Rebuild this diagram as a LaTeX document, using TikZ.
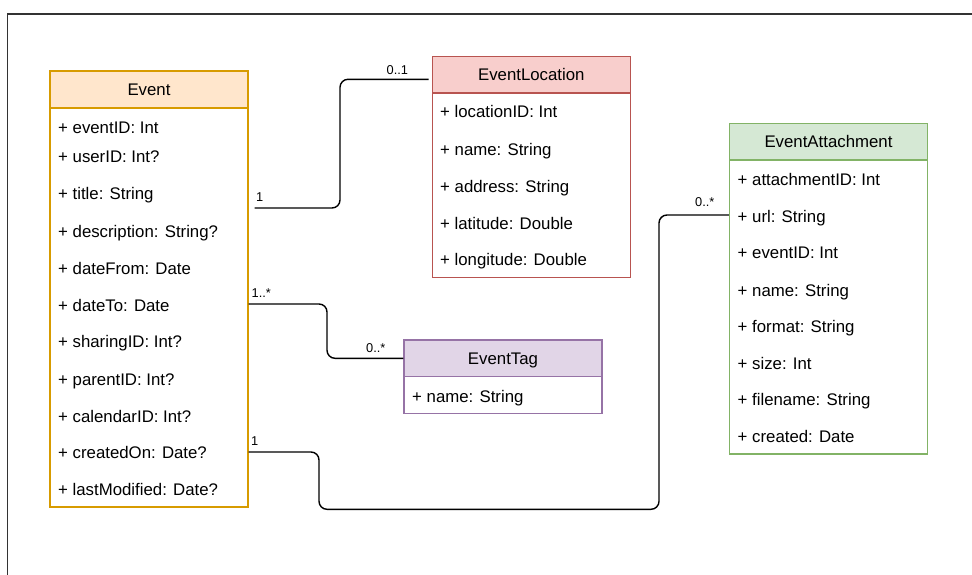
\documentclass[tikz,border=0pt]{standalone}
\usepackage{fontspec}
\setmainfont{Liberation Sans}
\newcommand{\mainfs}{\fontsize{16.8}{20}\selectfont}
\newcommand{\lblfs}{\fontsize{12.8}{15}\selectfont}
\definecolor{evfill}{HTML}{FFE6CC}\definecolor{evline}{HTML}{D79B00}
\definecolor{lofill}{HTML}{F8CECC}\definecolor{loline}{HTML}{B85450}
\definecolor{tgfill}{HTML}{E1D5E7}\definecolor{tgline}{HTML}{9673A6}
\definecolor{atfill}{HTML}{D5E8D4}\definecolor{atline}{HTML}{82B366}
\definecolor{framec}{HTML}{333333}
\tikzset{
  classhead/.style={minimum width=198pt, minimum height=36.5pt, inner sep=0pt, text height=12pt, text depth=0pt, font=\mainfs, line width=1.2pt},
  classbody/.style={minimum width=198pt, inner sep=0pt, line width=1.2pt, fill=white},
  row/.style={anchor=base west, inner sep=0pt, font=\mainfs},
  mult/.style={anchor=base west, inner sep=0pt, font=\lblfs},
  assoc/.style={draw=black, line width=1.4pt, rounded corners=8pt},
}
\begin{document}
\begin{tikzpicture}[x=1pt,y=-1pt]
\useasboundingbox (0,0) rectangle (972,574);
% frame
\coordinate (fbl) at (7.5,580);
\coordinate (ftl) at (7.5,14);
\coordinate (ftr) at (980,14);
\draw[framec, line width=1.5pt] (fbl) -- (ftl) -- (ftr);

% Event
\node[classbody, draw=evline, minimum height=399pt] (evbody) at (149,307.5) {};
\node[classhead, draw=evline, fill=evfill, minimum height=37pt] (evhead) at (149,89.5) {Event};
\node[row] (ev1) at (58,133) {+ eventID: Int};
\node[row] (ev2) at (58,162) {+ userID: Int?};
\node[row] (ev3) at (58,199) {+ title: String};
\node[row] (ev4) at (58,237) {+ description: String?};
\node[row] (ev5) at (58,274) {+ dateFrom: Date};
\node[row] (ev6) at (58,311) {+ dateTo: Date};
\node[row] (ev7) at (58,347) {+ sharingID: Int?};
\node[row] (ev8) at (58,385) {+ parentID: Int?};
\node[row] (ev9) at (58,422) {+ calendarID: Int?};
\node[row] (ev10) at (58,458.5) {+ createdOn: Date?};
\node[row] (ev11) at (58,495) {+ lastModified: Date?};

% EventLocation
\node[classbody, draw=loline, minimum height=184.6pt] (lobody) at (531.3,185) {};
\node[classhead, draw=loline, fill=lofill] (lohead) at (531.3,74.7) {EventLocation};
\node[row] (lo1) at (440,117.7) {+ locationID: Int};
\node[row] (lo2) at (440,155) {+ name: String};
\node[row] (lo3) at (440,192.7) {+ address: String};
\node[row] (lo4) at (440,229.3) {+ latitude: Double};
\node[row] (lo5) at (440,265.3) {+ longitude: Double};

% EventTag
\node[classbody, draw=tgline, minimum height=36.6pt] (tgbody) at (503,395) {};
\node[classhead, draw=tgline, fill=tgfill, minimum height=36.7pt] (tghead) at (503,358.3) {EventTag};
\node[row] (tg1) at (412,402) {+ name: String};

% EventAttachment
\node[classbody, draw=atline, minimum height=294pt] (atbody) at (828.5,307) {};
\node[classhead, draw=atline, fill=atfill, minimum height=36.7pt] (athead) at (828.5,141.7) {EventAttachment};
\node[row] (at1) at (737.5,185.7) {+ attachmentID: Int};
\node[row] (at2) at (737.5,222.7) {+ url: String};
\node[row] (at3) at (737.5,258.7) {+ eventID: Int};
\node[row] (at4) at (737.5,296) {+ name: String};
\node[row] (at5) at (737.5,332.7) {+ format: String};
\node[row] (at6) at (737.5,369.3) {+ size: Int};
\node[row] (at7) at (737.5,405.3) {+ filename: String};
\node[row] (at8) at (737.5,442) {+ created: Date};

% connectors
\coordinate (locA) at (254.5,208);
\coordinate (locB) at (428.7,79.3);
\draw[assoc] (locA) -- (340,208) -- (340,79.3) -- (locB);
\coordinate (tagA) at (evbody.east |- 0,304);
\draw[assoc] (tagA) -- (327,304) -- (327,358.3) -- (tghead.west);
\coordinate (attA) at (evbody.east |- 0,452);
\coordinate (attB) at (atbody.west |- 0,215);
\draw[assoc] (attA) -- (319,452) -- (319,509.3) -- (659,509.3) -- (659,215) -- (attB);

% multiplicities
\node[mult] (m1) at (256,201.7) {1};
\node[mult] (m2) at (386.5,74.3) {0..1};
\node[mult] (m3) at (251.5,297.3) {1..*};
\node[mult] (m4) at (366,352.3) {0..*};
\node[mult] (m5) at (251,445) {1};
\node[mult] (m6) at (695,206.7) {0..*};
\end{tikzpicture}
\end{document}
